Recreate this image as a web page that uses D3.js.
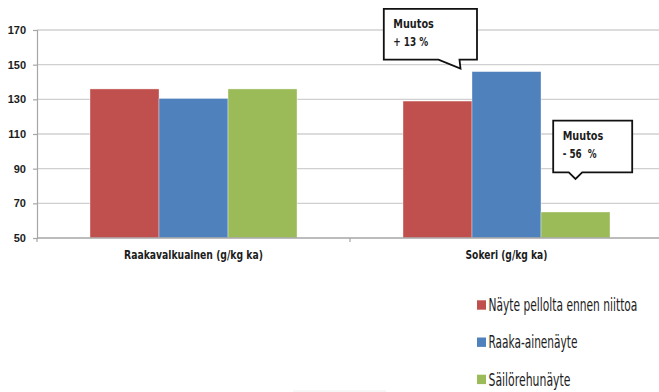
<!DOCTYPE html>
<html>
<head>
<meta charset="utf-8">
<script src="https://cdn.jsdelivr.net/npm/d3@7"></script>
<style>
  html, body { margin: 0; padding: 0; background: #fff; }
  svg { display: block; }
  text { font-family: "Liberation Sans Narrow", "DejaVu Sans Condensed", "Liberation Sans", sans-serif; fill: #1c1c1c; white-space: pre; }
</style>
</head>
<body>
<svg id="chart" width="659" height="392"></svg>
<script>
// Analysis results, g/kg dry matter
const categories = ["Raakavalkuainen (g/kg ka)", "Sokeri (g/kg ka)"];
const seriesNames = ["Näyte pellolta ennen niittoa", "Raaka-ainenäyte", "Säilörehunäyte"];
const fieldSample = [136, 129];
const rawSample = [130.5, 146];
const silageSample = [136, 65];
const seriesValues = [fieldSample, rawSample, silageSample];
const yTicks = [50, 70, 90, 110, 130, 150, 170];
const colors = ["#C0504D", "#4F81BD", "#9BBB59"];

// Change callouts on the sugar group
const callouts = [
  { lines: ["Muutos", "+ 13 %"], cat: 1, series: 1, tipDx: -46, tipDy: -3,
    box: { left: -76.7, right: 16.5, top: -59.8, bottom: -9 }, base: [-22, -1], widths: [40.6, 35] },
  { lines: ["Muutos", "- 56  %"], cat: 1, series: 2, tipDx: 0, tipDy: -33,
    box: { left: -22.3, right: 56.7, top: -58.3, bottom: -6.6 }, base: [-6.7, 6.7], widths: [40.6, 34] }
];

const svg = d3.select("#chart");
const plotLeft = 37, plotRight = 663, plotTop = 30, plotBottom = 238;

// Squeeze a text horizontally to a given width, keeping its anchor point fixed
function fitWidth(sel, width, anchor) {
  sel.each(function () {
    const t = d3.select(this);
    const x = +t.attr("x"), yy = +t.attr("y");
    const natural = this.getComputedTextLength();
    const w = typeof width === "function" ? width.apply(this, arguments) : width;
    const sx = natural > 0 ? w / natural : 1;
    t.attr("transform", `translate(${x},${yy}) scale(${sx},1) translate(${-x},${-yy})`);
  });
}

const y = d3.scaleLinear().domain([50, 170]).range([plotBottom, plotTop]);
const x0 = d3.scaleBand().domain(categories).range([plotLeft, plotRight])
  .paddingInner(0.3387).paddingOuter(0.3387 / 2);
const x1 = d3.scaleBand().domain(seriesNames).range([0, x0.bandwidth()]).padding(0);

// Horizontal gridlines
svg.append("g").selectAll("line").data(yTicks.slice(1)).join("line")
  .attr("x1", plotLeft).attr("x2", 659)
  .attr("y1", d => y(d)).attr("y2", d => y(d))
  .attr("stroke", "#d0d0d0").attr("stroke-width", 1.3);

// Bars
const groups = svg.append("g").selectAll("g").data(categories).join("g")
  .attr("transform", d => `translate(${x0(d)},0)`);
groups.selectAll("rect")
  .data((c, ci) => seriesNames.map((s, si) => ({ s, si, v: seriesValues[si][ci] })))
  .join("rect")
  .attr("x", d => x1(d.s))
  .attr("y", d => y(d.v))
  .attr("width", x1.bandwidth())
  .attr("height", d => y(50) - y(d.v))
  .attr("fill", d => colors[d.si])
  .attr("stroke", "rgba(255,255,255,0.45)").attr("stroke-width", 0.8);

// Y axis
const yAxis = svg.append("g").attr("transform", `translate(${plotLeft},0)`)
  .call(d3.axisLeft(y).tickValues(yTicks).tickSize(4).tickPadding(7));
yAxis.select(".domain").attr("stroke", "#a6a6a6").attr("stroke-width", 1.2);
yAxis.selectAll(".tick line").attr("stroke", "#a6a6a6").attr("stroke-width", 1.2);
yAxis.selectAll(".tick text")
  .style("font-family", "'Liberation Sans', sans-serif")
  .attr("font-size", 11).attr("font-weight", "bold").attr("fill", "#1c1c1c");

// X axis baseline with category separators
const xAxis = svg.append("g").attr("transform", `translate(0,${plotBottom})`);
xAxis.append("line").attr("x1", plotLeft).attr("x2", 659).attr("y1", 0).attr("y2", 0)
  .attr("stroke", "#a6a6a6").attr("stroke-width", 1.3);
xAxis.selectAll("line.sep").data([plotLeft, (x0(categories[0]) + x0.bandwidth() + x0(categories[1])) / 2])
  .join("line").attr("class", "sep")
  .attr("x1", d => d).attr("x2", d => d).attr("y1", 0).attr("y2", 4)
  .attr("stroke", "#a6a6a6").attr("stroke-width", 1.2);
const catWidths = [139, 82];
xAxis.selectAll("text").data(categories).join("text")
  .attr("x", d => x0(d) + x0.bandwidth() / 2)
  .attr("y", 21)
  .attr("text-anchor", "middle")
  .attr("font-size", 11.5).attr("font-weight", "bold")
  .text(d => d)
  .call(fitWidth, (d, i) => catWidths[i]);

// Callouts
callouts.forEach(c => {
  const cat = categories[c.cat], s = seriesNames[c.series];
  const tx = x0(cat) + x1(s) + x1.bandwidth() / 2 + c.tipDx;
  const ty = y(seriesValues[c.series][c.cat]) + c.tipDy;
  const b = c.box;
  const L = tx + b.left, R = tx + b.right, T = ty + b.top, B = ty + b.bottom;
  const path = d3.path();
  path.moveTo(L, T); path.lineTo(R, T); path.lineTo(R, B);
  path.lineTo(tx + c.base[1], B); path.lineTo(tx, ty); path.lineTo(tx + c.base[0], B);
  path.lineTo(L, B); path.closePath();
  svg.append("path").attr("d", path.toString())
    .attr("fill", "#fff").attr("stroke", "#111").attr("stroke-width", 1.8)
    .attr("stroke-linejoin", "miter");
  c.lines.forEach((line, i) => {
    svg.append("text")
      .attr("x", L + 9.5).attr("y", T + 19.5 + i * 17.8)
      .attr("font-size", 12.5).attr("font-weight", "bold")
      .text(line)
      .call(fitWidth, c.widths[i]);
  });
});

// Legend
const legendWidths = [149, 89, 82];
const legend = svg.append("g").selectAll("g").data(seriesNames).join("g")
  .attr("transform", (d, i) => `translate(477,${305 + i * 37.2})`);
legend.append("rect").attr("x", 0).attr("y", -4.7).attr("width", 9).attr("height", 9.4)
  .attr("fill", (d, i) => colors[i]);
legend.append("text").attr("x", 11.5).attr("y", 6.2)
  .attr("font-size", 17)
  .text(d => d)
  .call(fitWidth, (d, i) => legendWidths[i]);

// Faint rule near the bottom edge
svg.append("line").attr("x1", 293).attr("x2", 386).attr("y1", 391).attr("y2", 391)
  .attr("stroke", "#eeeeee").attr("stroke-width", 1);
</script>
</body>
</html>
